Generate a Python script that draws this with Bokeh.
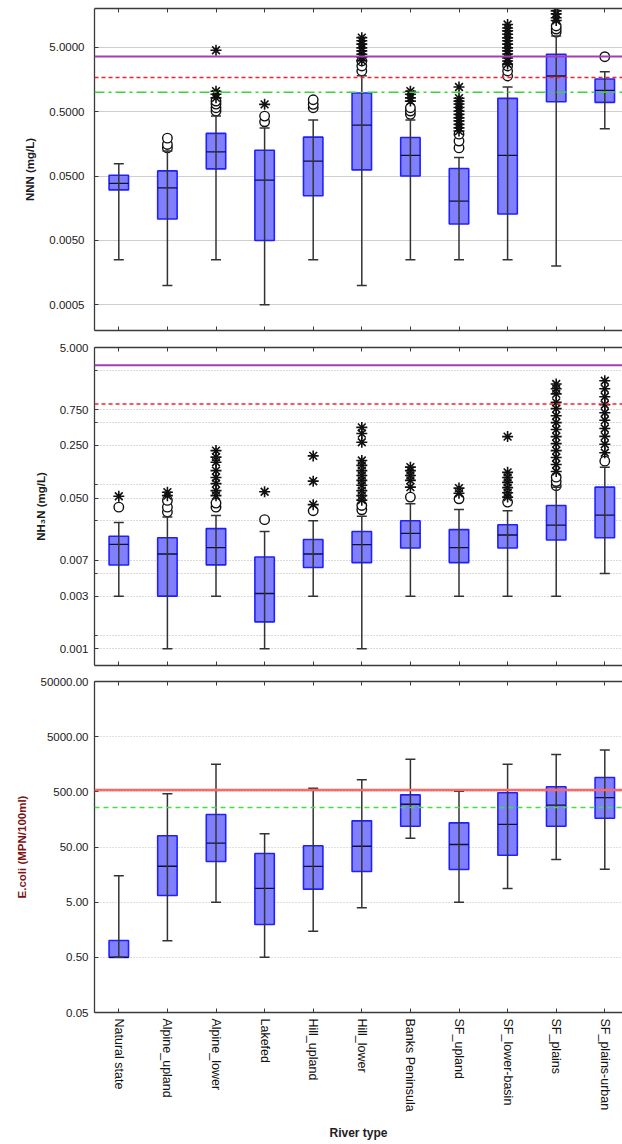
from bokeh.plotting import figure
from bokeh.layouts import column
from bokeh.models import (Range1d, FixedTicker, LinearAxis, Span, Whisker, TeeHead,
                          ColumnDataSource, PrintfTickFormatter)
from bokeh.embed import file_html
from bokeh.resources import INLINE

categories = ["Natural state", "Alpine_upland", "Alpine_lower", "Lakefed", "Hill_upland",
              "Hill_lower", "Banks Peninsula", "SF_upland", "SF_lower-basin", "SF_plains",
              "SF_plains-urban"]

# ---- NNN (mg/L) ----
nnn_q1 = [0.0305, 0.0108, 0.0647, 0.005, 0.0248, 0.0624, 0.05, 0.00903, 0.0129, 0.713, 0.698]
nnn_med = [0.0384, 0.0328, 0.119, 0.0432, 0.0853, 0.310, 0.1045, 0.0204, 0.1045, 1.79, 1.07]
nnn_q3 = [0.0516, 0.0602, 0.230, 0.126, 0.201, 0.973, 0.199, 0.0656, 0.805, 3.89, 1.61]
nnn_lo = [0.0025, 0.001, 0.0025, 0.0005, 0.0025, 0.001, 0.0025, 0.0025, 0.0025, 0.002, 0.271]
nnn_hi = [0.0774, 0.122, 0.43, 0.28, 0.370, 1.8, 0.37, 0.0973, 1.21, 7.5, 2.09]
nnn_circles = [[], [0.137, 0.155, 0.194], [0.511, 0.575, 0.656, 0.731], [0.348, 0.427],
               [0.575, 0.650, 0.766], [2.14, 2.56, 3.06], [0.454, 0.511, 0.575],
               [0.137, 0.175, 0.224], [1.79, 2.14, 2.56], [8.6, 9.6, 10.7], [3.57]]
nnn_stars = [[], [], [0.82, 0.93, 1.04, 4.49], [0.65], [],
             [3.1, 3.5, 3.9, 4.4, 4.9, 5.6, 6.3, 7.05], [0.73, 0.82, 0.93, 1.04],
             [0.25, 0.28, 0.318, 0.36, 0.40, 0.454, 0.51, 0.58, 0.657, 0.73, 0.81, 1.21],
             [2.74, 3.06, 3.4, 3.94, 4.4, 4.9, 5.6, 6.3, 7.0, 7.96, 8.98, 9.97, 11.3],
             [13.0, 14.4, 16.5, 18.4], []]
nnn_guides = [3.6, 1.7, 1.0]
nnn_ticks = [5, 0.5, 0.05, 0.005, 0.0005]

# ---- NH3N (mg/L) ----
nh3_q1 = [0.00649, 0.0025, 0.0065, 0.00114, 0.006, 0.00697, 0.0109, 0.00697, 0.0109, 0.0139, 0.0149]
nh3_med = [0.0122, 0.00907, 0.011, 0.00271, 0.00907, 0.0121, 0.017, 0.011, 0.0162, 0.0219, 0.0298]
nh3_q3 = [0.0156, 0.0149, 0.0197, 0.00828, 0.0141, 0.018, 0.025, 0.0191, 0.0222, 0.040, 0.07]
nh3_lo = [0.0025, 0.0005, 0.0025, 0.0005, 0.0025, 0.0005, 0.0025, 0.0025, 0.0025, 0.0025, 0.005]
nh3_hi = [0.0238, 0.028, 0.0295, 0.0181, 0.0251, 0.0287, 0.042, 0.0354, 0.034, 0.07, 0.129]
nh3_circles = [[0.038], [0.0327, 0.038, 0.0467], [0.038, 0.043], [0.0259], [0.034],
               [0.035, 0.040], [0.0516], [0.049], [0.0443], [0.073, 0.083, 0.095], [0.155]]
nh3_stars = [[0.053], [0.054, 0.06], [0.054, 0.063, 0.078, 0.094, 0.116, 0.15, 0.175, 0.214],
             [0.0608], [0.041, 0.084, 0.182],
             [0.047, 0.054, 0.063, 0.074, 0.086, 0.1, 0.116, 0.136, 0.158, 0.276, 0.36, 0.435],
             [0.07, 0.086, 0.1, 0.116, 0.129], [0.058, 0.068],
             [0.0516, 0.059, 0.069, 0.081, 0.094, 0.11, 0.328],
             [0.113, 0.14, 0.173, 0.214, 0.265, 0.328, 0.407, 0.503, 0.622, 0.771, 0.935, 1.21, 1.42, 1.64],
             [0.2, 0.26, 0.33, 0.42, 0.54, 0.68, 0.87, 1.11, 1.42, 1.81]]
nh3_guides = [2.9, 0.89]
nh3_ticks = [5, 0.75, 0.25, 0.05, 0.0075, 0.0025, 0.0005]
nh3_tick_labels = ["5.000", "0.750", "0.250", "0.050", "0.007", "0.003", "0.001"]
nh3_minor = [2.5, 0.5, 0.075, 0.025, 0.005, 0.00075]

# ---- E. coli (MPN/100ml) ----
eco_q1 = [0.5, 6.6, 27.3, 1.97, 8.6, 18.0, 119, 19.5, 35.5, 119, 166]
eco_med = [0.5, 22.4, 58.6, 8.86, 22.2, 51.6, 298, 55.5, 129, 286, 394]
eco_q3 = [1.01, 79.8, 194, 38.1, 52.6, 149, 441, 137, 480, 617, 908]
eco_lo = [0.5, 1.0, 5.0, 0.5, 1.49, 3.96, 72.1, 5.0, 8.86, 29.7, 19.8]
eco_hi = [15.0, 460, 1581, 86.7, 581, 824, 1950, 513, 1581, 2370, 2870]
eco_guides = [540, 260]
eco_ticks = [50000, 5000, 500, 50, 5, 0.5, 0.05]

FONT = "Liberation Sans"
AXIS_COL = "#3a3a3a"
BOX_W = 0.4
STEP = 48.6
FRAME_W = 528


def hide_labels(ax):
    ax.major_label_text_font_size = "1px"
    ax.major_label_text_color = None
    ax.major_label_text_alpha = 0
    ax.major_label_standoff = 0


def make_panel(q1, med, q3, lo, hi, circles, stars, yr, frame_h, top_b, bot_b,
               ylabel, ylabel_color, ticks, label_standoff, show_x):
    p = figure(frame_width=FRAME_W, frame_height=frame_h, y_axis_type="log",
               x_range=Range1d(-0.5, -0.5 + FRAME_W / STEP), y_range=Range1d(*yr),
               output_backend="svg", toolbar_location=None,
               min_border_left=94, min_border_right=0, min_border_top=top_b,
               min_border_bottom=bot_b, outline_line_color=None,
               background_fill_color="white", border_fill_color="white")
    idx = list(range(len(categories)))
    src = ColumnDataSource(dict(x=idx, q1=q1, med=med, q3=q3, lo=lo, hi=hi,
                                x0=[i - BOX_W / 2 for i in idx],
                                x1=[i + BOX_W / 2 for i in idx]))
    p.xgrid.visible = False

    # whiskers
    w = Whisker(base="x", upper="hi", lower="lo", source=src, level="glyph",
                line_color="#333333", line_width=1.5,
                upper_head=TeeHead(size=10, line_color="#333333", line_width=1.5),
                lower_head=TeeHead(size=10, line_color="#333333", line_width=1.5))
    p.add_layout(w)
    # boxes
    p.vbar(x="x", width=BOX_W, bottom="q1", top="q3", source=src,
           fill_color="#8080ff", line_color="#2020ff", line_width=1.6)
    p.segment(x0="x0", x1="x1", y0="med", y1="med", source=src,
              line_color="#111133", line_width=1.3)

    # outliers
    if circles is not None:
        cx = [i for i, vals in enumerate(circles) for _ in vals]
        cy = [v for vals in circles for v in vals]
        p.scatter(cx, cy, marker="circle", size=9.5, fill_color="white",
                  line_color="#111111", line_width=1.4)
    if stars is not None:
        sx = [i for i, vals in enumerate(stars) for _ in vals]
        sy = [v for vals in stars for v in vals]
        p.scatter(sx, sy, marker="asterisk", size=11, line_color="#111111",
                  line_width=1.6)

    # y axis
    ya = p.yaxis[0]
    ya.ticker = FixedTicker(ticks=ticks)
    ya.axis_label = ylabel
    ya.axis_label_text_font = FONT
    ya.axis_label_text_font_style = "bold"
    ya.axis_label_text_font_size = "11.5px"
    ya.axis_label_text_color = ylabel_color
    ya.axis_label_standoff = 10
    ya.major_label_text_font = FONT
    ya.major_label_text_font_size = "11.5px"
    ya.major_label_text_color = "#1a1a1a"
    ya.major_label_standoff = label_standoff
    ya.major_tick_out = 0
    ya.major_tick_in = 4
    ya.minor_tick_out = 0
    ya.minor_tick_in = 0
    ya.axis_line_color = AXIS_COL
    ya.axis_line_width = 1.3
    ya.major_tick_line_color = AXIS_COL

    # x axis below
    xa = p.xaxis[0]
    xa.ticker = FixedTicker(ticks=idx)
    xa.major_tick_in = 4
    xa.major_tick_out = 0
    xa.axis_line_color = AXIS_COL
    xa.axis_line_width = 1.3
    xa.major_tick_line_color = AXIS_COL
    xa.minor_tick_line_color = None
    if show_x:
        xa.major_label_overrides = {i: c for i, c in enumerate(categories)}
        xa.major_label_orientation = "vertical"
        xa.major_label_text_font = FONT
        xa.major_label_text_font_size = "12.5px"
        xa.major_label_text_color = "#111111"
        xa.major_label_standoff = 6
        xa.axis_label = "River type"
        xa.axis_label_text_font = FONT
        xa.axis_label_text_font_style = "bold"
        xa.axis_label_text_font_size = "12px"
        xa.axis_label_text_color = "#222222"
        xa.axis_label_standoff = 11
    else:
        hide_labels(xa)

    # x axis above (frame top with inward ticks)
    ta = LinearAxis(ticker=FixedTicker(ticks=idx), major_tick_in=4, major_tick_out=0,
                    axis_line_color=AXIS_COL, axis_line_width=1.3,
                    major_tick_line_color=AXIS_COL, minor_tick_line_color=None)
    hide_labels(ta)
    p.add_layout(ta, "above")
    return p


# Panel 1: NNN
p1 = make_panel(nnn_q1, nnn_med, nnn_q3, nnn_lo, nnn_hi, nnn_circles, nnn_stars,
                (0.0002, 20), 322, 8, 9, "NNN (mg/L)", "#1a1a2a", nnn_ticks, 10, False)
p1.yaxis[0].formatter = PrintfTickFormatter(format="%.4f")
p1.ygrid.grid_line_color = "#cfcfcf"
p1.ygrid.grid_line_width = 1
p1.add_layout(Span(location=nnn_guides[0], dimension="width", line_color="#a040b0",
                   line_width=2))
p1.add_layout(Span(location=nnn_guides[1], dimension="width", line_color="#ff2020",
                   line_width=1.5, line_dash="4 3"))
p1.add_layout(Span(location=nnn_guides[2], dimension="width", line_color="#3ad43a",
                   line_width=1.5, line_dash="10 4 3 4"))

# Panel 2: NH3N
p2 = make_panel(nh3_q1, nh3_med, nh3_q3, nh3_lo, nh3_hi, nh3_circles, nh3_stars,
                (0.0003, 5), 318, 8, 8, "NH\u2083N (mg/L)", "#1a1a1a", nh3_ticks, 6, False)
p2.yaxis[0].ticker = FixedTicker(ticks=nh3_ticks, minor_ticks=nh3_minor)
p2.yaxis[0].formatter = PrintfTickFormatter(format="%.3f")
p2.yaxis[0].major_label_overrides = {t: s for t, s in zip(nh3_ticks, nh3_tick_labels)}
p2.yaxis[0].minor_tick_in = 3
p2.yaxis[0].minor_tick_line_color = AXIS_COL
p2.ygrid.grid_line_color = "#b5b5b5"
p2.ygrid.grid_line_dash = "1 2"
p2.ygrid.minor_grid_line_color = "#b5b5b5"
p2.ygrid.minor_grid_line_dash = "1 2"
p2.add_layout(Span(location=nh3_guides[0], dimension="width", line_color="#a040b0",
                   line_width=2))
p2.add_layout(Span(location=nh3_guides[1], dimension="width", line_color="#ff2020",
                   line_width=1.5, line_dash="4 3"))

# Panel 3: E. coli
p3 = make_panel(eco_q1, eco_med, eco_q3, eco_lo, eco_hi, None, None,
                (0.05, 50000), 331, 8, 132, "E.coli (MPN/100ml)", "#7a1414", eco_ticks, 6, True)
p3.yaxis[0].formatter = PrintfTickFormatter(format="%.2f")
p3.ygrid.grid_line_color = "#c0c0c0"
p3.ygrid.grid_line_dash = "1 2"
p3.add_layout(Span(location=eco_guides[0], dimension="width", line_color="#ff6666",
                   line_width=2.5))
p3.add_layout(Span(location=eco_guides[1], dimension="width", line_color="#44dd44",
                   line_width=1.5, line_dash="5 4"))

layout = column(p1, p2, p3, spacing=0)
open("out.html", "w").write(file_html(layout, INLINE))
